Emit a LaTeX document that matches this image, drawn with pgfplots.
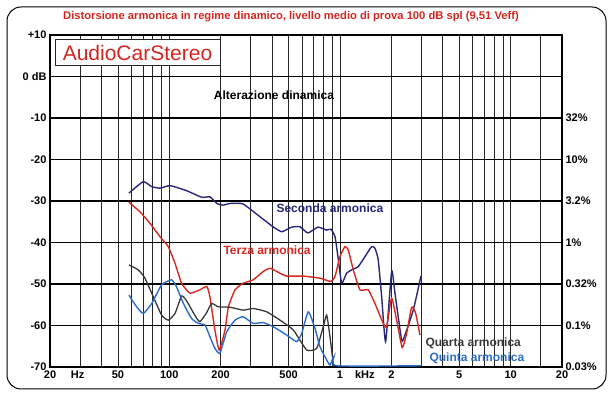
\documentclass[border=0pt]{standalone}
\usepackage{fontspec}
\setmainfont{Liberation Sans}
\usepackage{pgfplots}
\usepackage{pgfplotstable}
\pgfplotsset{compat=1.18}

\definecolor{seconda}{RGB}{40,38,122}
\definecolor{terza}{RGB}{214,40,30}
\definecolor{quarta}{RGB}{55,55,55}
\definecolor{quinta}{RGB}{42,108,200}
\definecolor{titlered}{RGB}{212,38,32}

% frequency (Hz)  level (dB)
\pgfplotstableread{
f      db
58     -28.1
70.4   -25.35
78.9   -26.55
88.2   -26.9
101    -26.3
126    -27.5
155    -29.1
173    -29.0
190    -30.6
206    -31.0
227    -30.6
270    -30.7
340    -33.8
405    -36.2
456    -37.4
521    -36.3
583    -36.2
649    -37.7
743    -36.3
836    -37.0
886    -36.8
935    -38.6
973    -43.4
1023   -49.8
1094   -47.4
1171   -46.6
1280   -45.8
1401   -43.4
1533   -41.0
1603   -41.4
1676   -44.2
1755   -53.1
1852   -63.9
2008   -47.0
2100   -52.2
2298   -63.5
2402   -62.3
2688   -56.3
2982   -48.1
}\seconda

\pgfplotstableread{
f      db
58     -30.3
67.3   -32.6
77.1   -35.4
88.2   -38.6
98.6   -41.0
108    -45.0
118    -49.8
132    -52.2
151    -51.4
166    -50.6
173    -53.1
185    -61.1
196    -65.9
212    -61.1
222    -55.5
243    -51.4
271    -49.8
310    -49.0
355    -47.0
389    -46.2
445    -47.4
487    -48.1
609    -48.1
763    -48.6
886    -49.4
935    -48.2
1000   -43.4
1070   -41.0
1118   -41.8
1197   -46.6
1310   -51.4
1464   -51.4
1603   -54.7
1793   -59.5
1877   -60.3
2008   -53.4
2148   -58.7
2316   -65.3
2458   -61.9
2630   -55.6
2777   -57.1
2942   -62.3
}\terza

\pgfplotstableread{
f      db
58     -45.4
65.8   -46.6
72     -48.6
80.6   -53.1
90.2   -57.5
98.6   -58.7
108    -57.1
118    -52.9
126    -54.0
141    -57.5
151    -59.1
165    -57.0
177    -54.7
194    -55.5
227    -55.6
271    -56.3
310    -55.9
372    -56.7
445    -58.7
533    -61.1
638    -65.9
730    -65.5
798    -60.3
836    -57.5
874    -62.7
913    -69.1
925    -69.8
}\quarta

\pgfplotstableread{
f      db
58     -52.7
64.4   -55.5
70.4   -57.1
78.9   -54.7
90.2   -50.2
103    -49.0
110    -50.6
121    -54.7
135    -58.3
148    -59.5
162    -59.9
173    -62.7
185    -65.5
198    -66.7
217    -61.5
243    -58.7
271    -57.9
310    -59.5
355    -59.3
407    -60.3
487    -62.3
558    -63.9
597    -61.9
652    -56.7
714    -60.7
763    -65.1
836    -68.3
874    -69.5
922    -67.5
956    -69.7
3000   -69.7
}\quinta

\begin{document}
\begin{tikzpicture}[x=1pt,y=1pt]
\useasboundingbox (0,0) rectangle (610,393);
\draw[line width=1pt, rounded corners=14pt] (7,4) rectangle (606,386);

\begin{axis}[
  at={(50pt,26pt)}, anchor=south west,
  scale only axis, width=512pt, height=332pt,
  xmode=log, xmin=20, xmax=20000, ymin=-70, ymax=10,
  xtick={20,29,50,100,200,500,1000,1400,2000,5000,10000,20000},
  xticklabels={20,Hz,50,100,200,500,1,kHz,2,5,10,20},
  minor xtick={30,40,50,60,70,80,90,100,200,300,400,500,600,700,800,900,1000,2000,3000,4000,5000,6000,7000,8000,9000,10000,15000},
  xmajorgrids=false, xminorgrids=true,
  ytick={-70,-60,...,10},
  yticklabels={-70,-60,-50,-40,-30,-20,-10,0 dB,+10},
  ymajorgrids=true,
  major tick length=0pt, minor tick length=0pt,
  tick label style={font=\bfseries\fontsize{11}{12}\selectfont},
  axis line style={line width=1.3pt},
  minor grid style={black!85, line width=0.6pt},
  major grid style={black, line width=1.1pt},
]
\addplot[seconda, line width=1.4pt, smooth, tension=0.3] table {\seconda};
\addplot[terza, line width=1.4pt, smooth, tension=0.3] table {\terza};
\addplot[quarta, line width=1.3pt, smooth, tension=0.3] table {\quarta};
\addplot[quinta, line width=1.4pt, smooth, tension=0.3] table {\quinta};
\end{axis}

\begin{axis}[
  at={(50pt,26pt)}, anchor=south west,
  scale only axis, width=512pt, height=332pt,
  xmode=log, xmin=20, xmax=20000, ymin=-70, ymax=10,
  axis x line=none, axis y line*=right,
  ytick={-70,-60,...,-10},
  yticklabels={0.03\%,0.1\%,0.32\%,1\%,3.2\%,10\%,32\%},
  major tick length=0pt,
  tick label style={font=\bfseries\fontsize{11}{12}\selectfont},
  axis line style={line width=1.3pt},
]
\end{axis}

% captions
\node[text=titlered, font=\bfseries\fontsize{11.2}{13}\selectfont] at (291,376)
  {Distorsione armonica in regime dinamico, livello medio di prova 100 dB spl (9,51 Veff)};
\node[draw=black!85, line width=1pt, fill=white, minimum width=165pt, minimum height=26pt,
  text=titlered, font=\fontsize{21}{23}\selectfont, inner sep=1pt] at (137.5,340) {AudioCarStereo};
\node[font=\bfseries\fontsize{12}{14}\selectfont] at (274,298) {Alterazione dinamica};
\node[anchor=west, text=seconda, font=\bfseries\fontsize{12}{14}\selectfont] at (273,185) {Seconda armonica};
\node[anchor=west, text=terza, font=\bfseries\fontsize{12}{14}\selectfont] at (220,143) {Terza armonica};
\node[anchor=west, text=quarta, font=\bfseries\fontsize{12}{14}\selectfont] at (422,50) {Quarta armonica};
\node[anchor=west, text=quinta, font=\bfseries\fontsize{12}{14}\selectfont] at (426,35) {Quinta armonica};
\end{tikzpicture}
\end{document}
